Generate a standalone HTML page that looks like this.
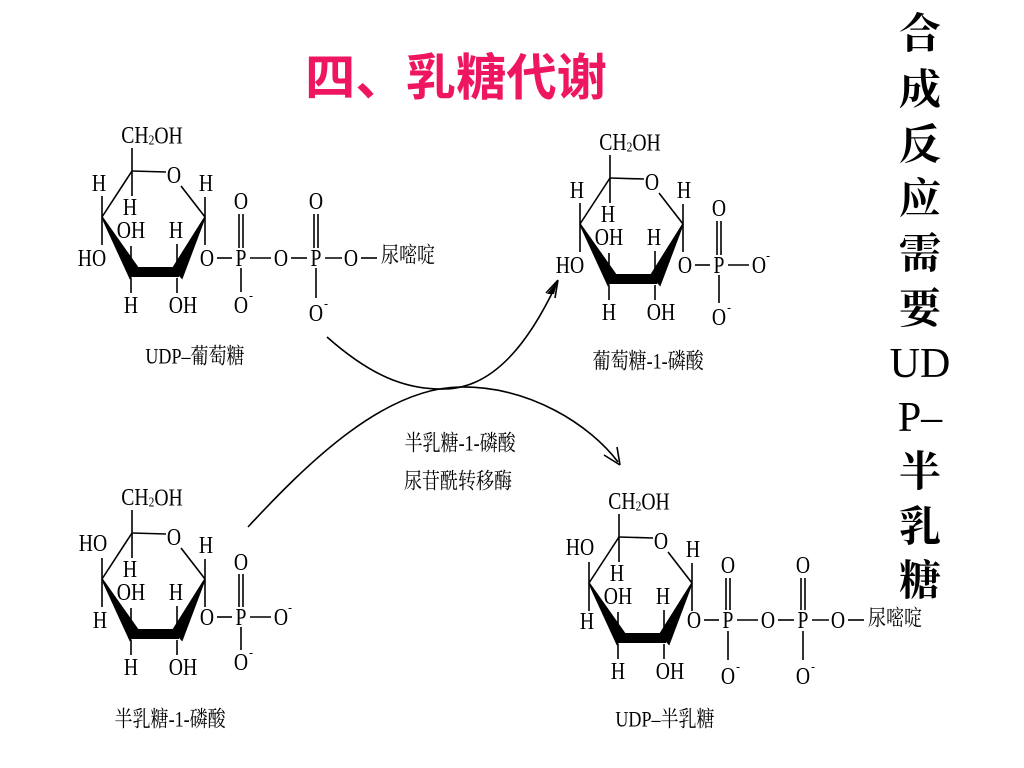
<!DOCTYPE html>
<html><head><meta charset="utf-8"><style>
html,body{margin:0;padding:0;background:#fff;}
svg{display:block;}
text{font-family:"Liberation Serif","Noto Serif CJK SC",serif;fill:#000;}
.m text{transform-box:fill-box;transform-origin:center;transform:scaleX(.82);}
</style></head><body>
<svg width="1024" height="768" viewBox="0 0 1024 768" xmlns="http://www.w3.org/2000/svg">
<text x="456" y="74" font-size="50" font-weight="bold" text-anchor="middle" dominant-baseline="central" style="fill:#ee1660;font-family:'Noto Sans CJK SC',sans-serif" textLength="302" lengthAdjust="spacingAndGlyphs">四、乳糖代谢</text>

<g font-size="42" font-weight="bold" text-anchor="middle" dominant-baseline="central" style="font-family:'Liberation Serif','Noto Serif CJK SC',serif">
<text x="920" y="35">合</text><text x="920" y="91">成</text><text x="920" y="146">反</text><text x="920" y="200">应</text><text x="920" y="255">需</text><text x="920" y="310">要</text><text x="920" y="364" font-weight="normal">UD</text><text x="920" y="418" font-weight="normal">P–</text><text x="920" y="473">半</text><text x="920" y="528">乳</text><text x="920" y="582">糖</text>
</g>

<!-- Top-left: UDP-glucose -->
<g class="m" transform="translate(0,0)" stroke="#000" stroke-width="1.6" font-size="24" text-anchor="middle" dominant-baseline="central">
<line x1="132" y1="171" x2="166" y2="172"/><line x1="181" y1="186" x2="205" y2="217"/>
<polygon points="205,217 182,278 173,268" fill="#000"/>
<rect x="130" y="267" width="49" height="10" fill="#000" stroke="none"/>
<polygon points="102,217 138,268 130,278" fill="#000"/>
<line x1="102" y1="217" x2="132" y2="171"/>
<line x1="132" y1="171" x2="132" y2="148"/><line x1="132" y1="171" x2="132" y2="196"/>
<line x1="102" y1="217" x2="102" y2="196"/><line x1="102" y1="217" x2="102" y2="245"/>
<line x1="131" y1="270" x2="131" y2="246"/><line x1="131" y1="278" x2="131" y2="293"/>
<line x1="177" y1="268" x2="177" y2="244"/><line x1="177" y1="278" x2="177" y2="293"/>
<line x1="205" y1="217" x2="205" y2="197"/><line x1="205" y1="217" x2="205" y2="245"/>
<g stroke="none">
<text x="152" y="135">CH<tspan font-size="14" dy="5">2</tspan><tspan dy="-5">OH</tspan></text>
<text x="174" y="175">O</text><text x="99" y="183">H</text><text x="206" y="183">H</text>
<text x="130" y="207">H</text><text x="131" y="230">OH</text><text x="176" y="230">H</text>
<text x="92" y="258">HO</text><text x="131" y="305">H</text><text x="183" y="305">OH</text>
<text x="207" y="258">O</text><text x="241" y="258">P</text><text x="281" y="258">O</text><text x="316" y="258">P</text><text x="351" y="258">O</text>
<text x="408" y="256" font-size="22">尿嘧啶</text>
<text x="241" y="201">O</text><text x="316" y="201">O</text>
<text x="241" y="305">O</text><text x="251" y="295" font-size="14">-</text>
<text x="316" y="313">O</text><text x="326" y="303" font-size="14">-</text>
<text x="195" y="357" font-size="22">UDP–葡萄糖</text>
</g>
<line x1="217" y1="258" x2="232" y2="258"/><line x1="250" y1="258" x2="271" y2="258"/><line x1="291" y1="258" x2="307" y2="258"/><line x1="325" y1="258" x2="342" y2="258"/><line x1="361" y1="258" x2="377" y2="258"/>
<line x1="239" y1="214" x2="239" y2="248"/><line x1="243" y1="214" x2="243" y2="248"/>
<line x1="241" y1="268" x2="241" y2="292"/>
<line x1="314" y1="214" x2="314" y2="248"/><line x1="318" y1="214" x2="318" y2="248"/>
<line x1="316" y1="268" x2="316" y2="298"/>
</g>

<!-- Top-right: glucose-1-phosphate -->
<g class="m" transform="translate(478,7)" stroke="#000" stroke-width="1.6" font-size="24" text-anchor="middle" dominant-baseline="central">
<line x1="132" y1="171" x2="166" y2="172"/><line x1="181" y1="186" x2="205" y2="217"/>
<polygon points="205,217 182,278 173,268" fill="#000"/>
<rect x="130" y="267" width="49" height="10" fill="#000" stroke="none"/>
<polygon points="102,217 138,268 130,278" fill="#000"/>
<line x1="102" y1="217" x2="132" y2="171"/>
<line x1="132" y1="171" x2="132" y2="148"/><line x1="132" y1="171" x2="132" y2="196"/>
<line x1="102" y1="217" x2="102" y2="196"/><line x1="102" y1="217" x2="102" y2="245"/>
<line x1="131" y1="270" x2="131" y2="246"/><line x1="131" y1="278" x2="131" y2="293"/>
<line x1="177" y1="268" x2="177" y2="244"/><line x1="177" y1="278" x2="177" y2="293"/>
<line x1="205" y1="217" x2="205" y2="197"/><line x1="205" y1="217" x2="205" y2="245"/>
<g stroke="none">
<text x="152" y="135">CH<tspan font-size="14" dy="5">2</tspan><tspan dy="-5">OH</tspan></text>
<text x="174" y="175">O</text><text x="99" y="183">H</text><text x="206" y="183">H</text>
<text x="130" y="207">H</text><text x="131" y="230">OH</text><text x="176" y="230">H</text>
<text x="92" y="258">HO</text><text x="131" y="305">H</text><text x="183" y="305">OH</text>
<text x="207" y="258">O</text><text x="241" y="258">P</text><text x="281" y="258">O</text>
<text x="290" y="248" font-size="14">-</text>
<text x="241" y="201">O</text>
<text x="241" y="310">O</text><text x="251" y="300" font-size="14">-</text>
<text x="170" y="355" font-size="22">葡萄糖-1-磷酸</text>
</g>
<line x1="217" y1="258" x2="232" y2="258"/><line x1="250" y1="258" x2="271" y2="258"/>
<line x1="239" y1="214" x2="239" y2="248"/><line x1="243" y1="214" x2="243" y2="248"/>
<line x1="241" y1="268" x2="241" y2="296"/>
</g>

<!-- Bottom-left: galactose-1-phosphate -->
<g class="m" transform="translate(0,362)" stroke="#000" stroke-width="1.6" font-size="24" text-anchor="middle" dominant-baseline="central">
<line x1="132" y1="171" x2="166" y2="172"/><line x1="181" y1="186" x2="205" y2="217"/>
<polygon points="205,217 182,278 173,268" fill="#000"/>
<rect x="130" y="267" width="49" height="10" fill="#000" stroke="none"/>
<polygon points="102,217 138,268 130,278" fill="#000"/>
<line x1="102" y1="217" x2="132" y2="171"/>
<line x1="132" y1="171" x2="132" y2="148"/><line x1="132" y1="171" x2="132" y2="196"/>
<line x1="102" y1="217" x2="102" y2="196"/><line x1="102" y1="217" x2="102" y2="245"/>
<line x1="131" y1="270" x2="131" y2="246"/><line x1="131" y1="278" x2="131" y2="293"/>
<line x1="177" y1="268" x2="177" y2="244"/><line x1="177" y1="278" x2="177" y2="293"/>
<line x1="205" y1="217" x2="205" y2="197"/><line x1="205" y1="217" x2="205" y2="245"/>
<g stroke="none">
<text x="152" y="135">CH<tspan font-size="14" dy="5">2</tspan><tspan dy="-5">OH</tspan></text>
<text x="174" y="175">O</text><text x="93" y="181">HO</text><text x="206" y="183">H</text>
<text x="130" y="207">H</text><text x="131" y="230">OH</text><text x="176" y="230">H</text>
<text x="100" y="258">H</text><text x="131" y="305">H</text><text x="183" y="305">OH</text>
<text x="207" y="255">O</text><text x="241" y="255">P</text><text x="281" y="255">O</text>
<text x="290" y="245" font-size="14">-</text>
<text x="241" y="200">O</text>
<text x="241" y="300">O</text><text x="251" y="290" font-size="14">-</text>
<text x="170" y="358" font-size="22">半乳糖-1-磷酸</text>
</g>
<line x1="217" y1="255" x2="232" y2="255"/><line x1="250" y1="255" x2="271" y2="255"/>
<line x1="239" y1="212" x2="239" y2="245"/><line x1="243" y1="212" x2="243" y2="245"/>
<line x1="241" y1="265" x2="241" y2="288"/>
</g>

<!-- Bottom-right: UDP-galactose -->
<g class="m" transform="translate(487,366)" stroke="#000" stroke-width="1.6" font-size="24" text-anchor="middle" dominant-baseline="central">
<line x1="132" y1="171" x2="166" y2="172"/><line x1="181" y1="186" x2="205" y2="217"/>
<polygon points="205,217 182,278 173,268" fill="#000"/>
<rect x="130" y="267" width="49" height="10" fill="#000" stroke="none"/>
<polygon points="102,217 138,268 130,278" fill="#000"/>
<line x1="102" y1="217" x2="132" y2="171"/>
<line x1="132" y1="171" x2="132" y2="148"/><line x1="132" y1="171" x2="132" y2="196"/>
<line x1="102" y1="217" x2="102" y2="196"/><line x1="102" y1="217" x2="102" y2="245"/>
<line x1="131" y1="270" x2="131" y2="246"/><line x1="131" y1="278" x2="131" y2="293"/>
<line x1="177" y1="268" x2="177" y2="244"/><line x1="177" y1="278" x2="177" y2="293"/>
<line x1="205" y1="217" x2="205" y2="197"/><line x1="205" y1="217" x2="205" y2="245"/>
<g stroke="none">
<text x="152" y="135">CH<tspan font-size="14" dy="5">2</tspan><tspan dy="-5">OH</tspan></text>
<text x="174" y="175">O</text><text x="93" y="181">HO</text><text x="206" y="183">H</text>
<text x="130" y="207">H</text><text x="131" y="230">OH</text><text x="176" y="230">H</text>
<text x="100" y="255">H</text><text x="131" y="305">H</text><text x="183" y="305">OH</text>
<text x="207" y="254">O</text><text x="241" y="254">P</text><text x="281" y="254">O</text><text x="316" y="254">P</text><text x="351" y="254">O</text>
<text x="408" y="253" font-size="22">尿嘧啶</text>
<text x="241" y="199">O</text><text x="316" y="199">O</text>
<text x="241" y="310">O</text><text x="251" y="300" font-size="14">-</text>
<text x="316" y="310">O</text><text x="326" y="300" font-size="14">-</text>
<text x="178" y="354" font-size="22">UDP–半乳糖</text>
</g>
<line x1="217" y1="254" x2="232" y2="254"/><line x1="250" y1="254" x2="271" y2="254"/><line x1="291" y1="254" x2="307" y2="254"/><line x1="325" y1="254" x2="342" y2="254"/><line x1="361" y1="254" x2="377" y2="254"/>
<line x1="239" y1="212" x2="239" y2="244"/><line x1="243" y1="212" x2="243" y2="244"/>
<line x1="241" y1="265" x2="241" y2="294"/>
<line x1="314" y1="212" x2="314" y2="244"/><line x1="318" y1="212" x2="318" y2="244"/>
<line x1="316" y1="265" x2="316" y2="294"/>
</g>

<!-- Curved arrows -->
<g fill="none" stroke="#000" stroke-width="1.6">
<path d="M327,337 C370,375 405,390 445,389 C495,388 530,340 556,285"/>
<path d="M248,527 C310,460 385,388 460,387 C530,386 590,425 618,462"/>
</g>
<polygon points="558,280 547,294 554,294" fill="#000"/>
<path d="M558,280 L546,293 M558,280 L555,298" stroke="#000" stroke-width="1.6" fill="none"/>
<path d="M620,465 L604,455 M620,465 L617,447" stroke="#000" stroke-width="1.6" fill="none"/>

<g class="m" font-size="22" text-anchor="middle" dominant-baseline="central">
<text x="460" y="444">半乳糖-1-磷酸</text>
<text x="458" y="482">尿苷酰转移酶</text>
</g>
</svg>
</body></html>
